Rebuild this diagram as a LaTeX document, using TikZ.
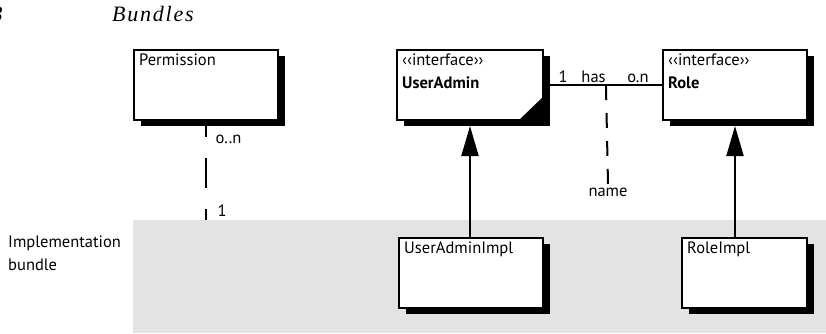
\documentclass[tikz,border=0pt]{standalone}
\usepackage{fontspec}
\setsansfont{PT Sans}
\newfontfamily\headfont[LetterSpace=8]{Liberation Serif}
\usetikzlibrary{positioning,shadows,arrows.meta}

\begin{document}
\begin{tikzpicture}[x=1pt,y=-1pt,
    font=\sffamily\fontsize{16.5}{23}\selectfont,
    classbox/.style={draw, line width=2pt, fill=white, minimum width=#1, minimum height=70pt, inner sep=0pt,
        drop shadow={shadow xshift=7pt, shadow yshift=-6pt, fill=black, opacity=1}},
    classbox/.default=144pt,
    title/.style={anchor=north west, inner xsep=6pt, inner ysep=5pt, align=left},
    conn/.style={line width=2pt},
    inherit/.style={line width=2pt, -{Triangle[length=30pt,width=17pt]}, shorten >=5pt},
    multip/.style={inner sep=1.5pt},
    heading/.style={font=\headfont\itshape\fontsize{22}{26}\selectfont, inner sep=0pt}]
\useasboundingbox (0,0) rectangle (826,333);

\fill[black!11] (133,220) rectangle (826,333);

\node[heading, anchor=base east] (pagenum) at (3,21) {3};
\node[heading, anchor=base west] (head) at (112,21) {Bundles};

\node[classbox, label={[title]north west:Permission}] (perm) at (206,85) {};
\node[classbox=146pt, label={[title]north west:‹‹interface››\\\textbf{UserAdmin}}] (uadm) at (470,85) {};
\fill (uadm.south east) -- ++(-26,0) -- ++(26,-25) -- cycle;
\node[classbox, label={[title]north west:‹‹interface››\\\textbf{Role}}] (role) at (735,85) {};

\node[classbox, label={[title]north west:UserAdminImpl}] (uaimpl) at (471,273) {};
\node[classbox=125pt, label={[title]north west:RoleImpl}] (roleimpl) at (744.5,273) {};

\node[anchor=north west, align=left, inner sep=0pt] (impl) at (8,236) {Implementation\\bundle};

% has association
\draw[conn] (uadm.east) -- coordinate[pos=0.525] (hasmid) (role.west)
    node[multip, pos=0, anchor=south west, xshift=12pt] {1}
    node[multip, pos=0.42, above] {has}
    node[multip, pos=1, anchor=south east, xshift=-11pt] {o.n};
\node[anchor=base] (name) at (608,196) {name};
\draw[conn, dash pattern=on 15pt off 13pt] (hasmid) -- (name.north);

% permission link
\coordinate (permend) at (perm.south |- 0,220);
\draw[conn, dash pattern=on 30pt off 21pt, dash phase=14pt] (perm.south) -- (permend);
\node[multip, anchor=base west] (permmany) at (214,143) {o..n};
\node[multip, anchor=base west] (permone) at (216,216) {1};

\draw[inherit] (uaimpl.north -| uadm.south) -- (uadm.south);
\draw[inherit] (roleimpl.north -| role.south) -- (role.south);
\end{tikzpicture}
\end{document}
